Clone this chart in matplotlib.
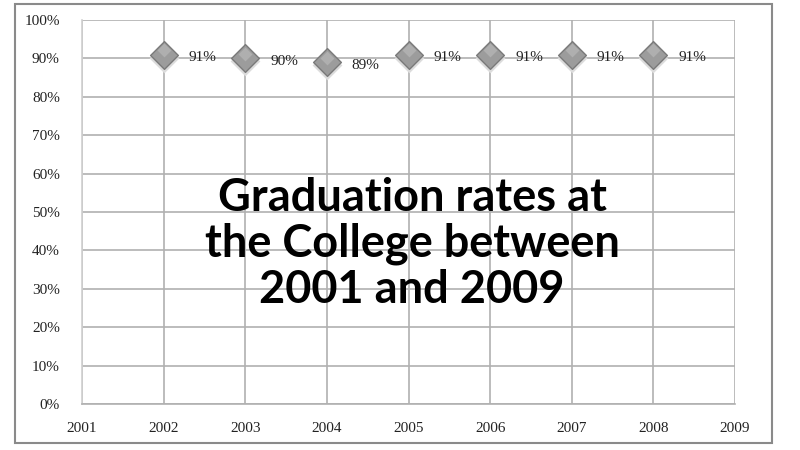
import matplotlib.pyplot as plt
from matplotlib.patches import Rectangle
from matplotlib.ticker import FuncFormatter

years = [2002, 2003, 2004, 2005, 2006, 2007, 2008]
rates = [91, 90, 89, 91, 91, 91, 91]
labels = ['91%', '90%', '89%', '91%', '91%', '91%', '91%']
x_ticks = [2001, 2002, 2003, 2004, 2005, 2006, 2007, 2008, 2009]
y_ticks = [0, 10, 20, 30, 40, 50, 60, 70, 80, 90, 100]
title = 'Graduation rates at\nthe College between\n2001 and 2009'

fig = plt.figure(figsize=(8, 4.5), dpi=100)
W, H = 800, 450

# outer chart frame
fig.patches.append(Rectangle((15 / W, 1 - 443 / H), (772 - 15) / W, (443 - 4) / H,
                             transform=fig.transFigure, fill=False,
                             edgecolor='#8a8a8a', linewidth=1.5))

ax = fig.add_axes([82 / W, 1 - 404 / H, (735 - 82) / W, (404 - 20) / H])
ax.set_xlim(2001, 2009)
ax.set_ylim(0, 100)
ax.set_xticks(x_ticks)
ax.set_yticks(y_ticks)
ax.yaxis.set_major_formatter(FuncFormatter(lambda v, p: f'{v:.0f}%'))
ax.grid(True, color='#b0b0b0', linewidth=1.2)
ax.set_axisbelow(True)
for side in ['top', 'right']:
    ax.spines[side].set_visible(False)
ax.spines['left'].set_color('#d0d0d0')
ax.spines['bottom'].set_color('#b0b0b0')
ax.spines['left'].set_linewidth(1.2)
ax.spines['bottom'].set_linewidth(1.2)
ax.tick_params(length=0, labelsize=11, colors='#222222', pad=16)
ax.tick_params(axis='x', pad=13)
for t in ax.get_xticklabels() + ax.get_yticklabels():
    t.set_family('Liberation Serif')

# grey diamonds with a soft shadow
ax.scatter(years, [r - 0.8 for r in rates], marker='D', s=230, color='#dcdcdc',
           zorder=3, linewidths=0)
ax.scatter(years, rates, marker='D', s=200, color='#9c9c9c',
           edgecolors='#7a7a7a', linewidths=1, zorder=4)
ax.scatter(years, [r + 1.2 for r in rates], marker='D', s=50, color='#bcbcbc',
           linewidths=0, zorder=5, alpha=0.6)

for x, y, lab in zip(years, rates, labels):
    ax.annotate(lab, (x, y), xytext=(18, -2), textcoords='offset points',
                va='center', ha='left', fontsize=11, family='Liberation Serif',
                color='#222222', zorder=6)

fig.text(412 / W, 1 - 244 / H, title, ha='center', va='center',
         fontsize=32.5, fontweight='bold', family='Lato',
         linespacing=1.12, color='black')

fig.savefig('out.png', dpi=100)
